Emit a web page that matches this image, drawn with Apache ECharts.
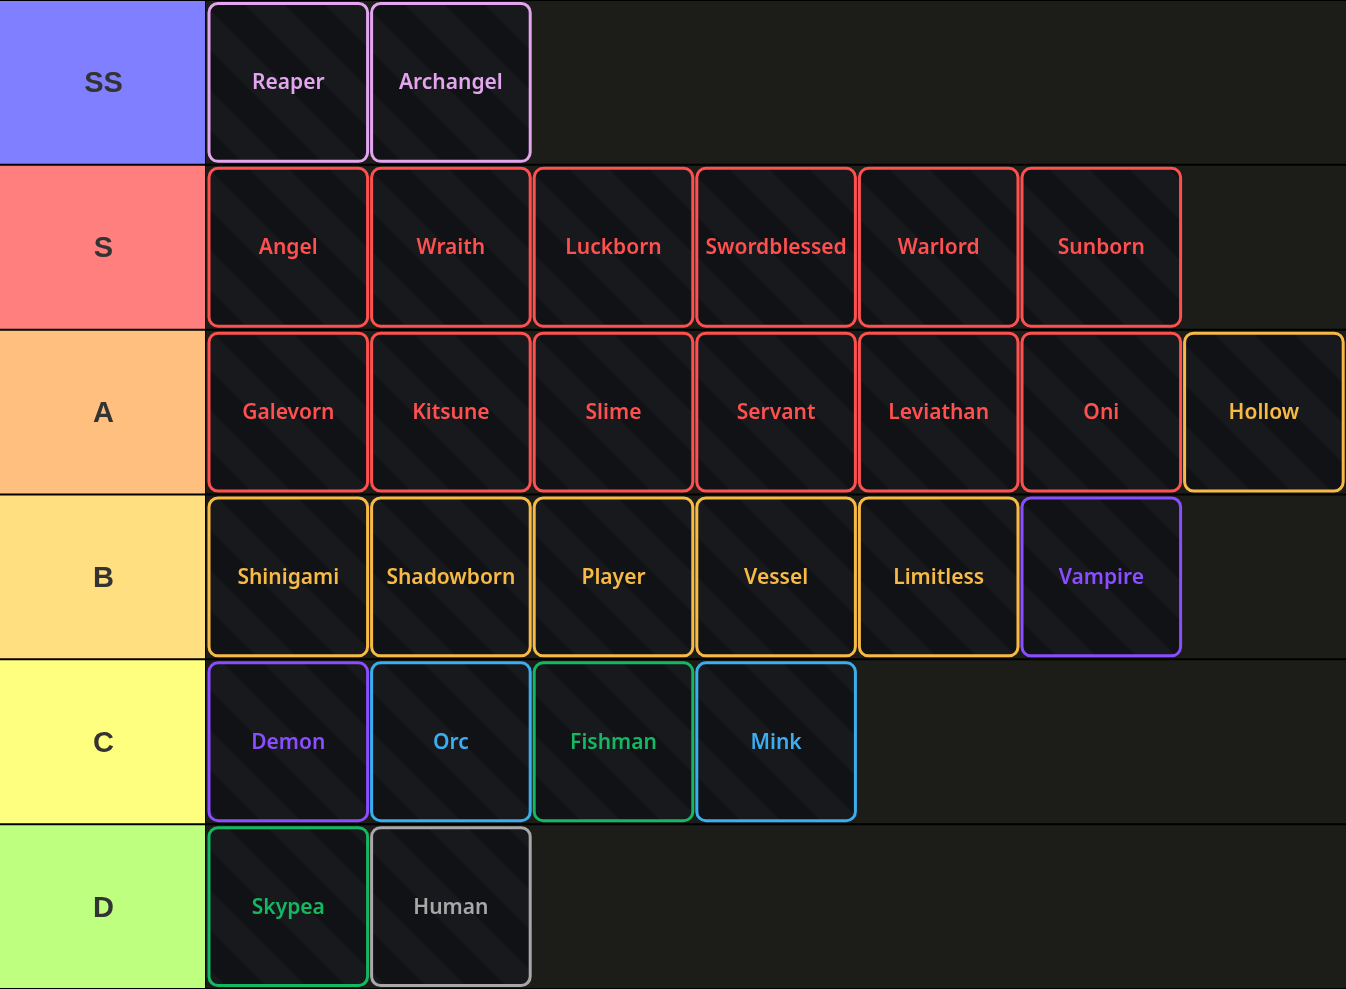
<!DOCTYPE html>
<html><head><meta charset="utf-8">
<script src="https://cdn.jsdelivr.net/npm/echarts@6/dist/echarts.min.js"></script>
<style>html,body{margin:0;padding:0;background:#000;}#c{width:1346px;height:989px;}</style>
</head><body><div id="c"></div>
<script>
const tiers = ['SS','S','A','B','C','D'];
const tierColors = ['#7f7fff','#ff7f7f','#ffbf7f','#ffdf7f','#ffff7f','#bfff7f'];
const tierSS = [['Reaper','pink'],['Archangel','pink']];
const tierS = [['Angel','red'],['Wraith','red'],['Luckborn','red'],['Swordblessed','red'],['Warlord','red'],['Sunborn','red']];
const tierA = [['Galevorn','red'],['Kitsune','red'],['Slime','red'],['Servant','red'],['Leviathan','red'],['Oni','red'],['Hollow','orange']];
const tierB = [['Shinigami','orange'],['Shadowborn','orange'],['Player','orange'],['Vessel','orange'],['Limitless','orange'],['Vampire','purple']];
const tierC = [['Demon','purple'],['Orc','blue'],['Fishman','green'],['Mink','blue']];
const tierD = [['Skypea','green'],['Human','gray']];
const palette = {pink:'#e3a6ee',red:'#ff5050',orange:'#f7bb45',purple:'#8a4dff',blue:'#3aaef0',green:'#15b862',gray:'#a8a8a8'};
const rowsItems = [tierSS,tierS,tierA,tierB,tierC,tierD];

const data = [];
rowsItems.forEach((row,t)=>row.forEach((it,i)=>data.push([i+0.5,t,it[0],palette[it[1]]])));

// stripe pattern
const P=80;
const pc = document.createElement('canvas'); pc.width=P; pc.height=P;
const g = pc.getContext('2d');
g.fillStyle='#111216'; g.fillRect(0,0,P,P);
g.fillStyle='#18191d';
for(let k=-2;k<3;k++){ g.beginPath();
  const o=k*P; g.moveTo(o,0); g.lineTo(o+P/2,0); g.lineTo(o+P*1.5,P); g.lineTo(o+P,P); g.closePath(); g.fill(); }

const chart = echarts.init(document.getElementById('c'));
const xmax = 1140/162.6;
chart.setOption({
  animation:false,
  grid:[{left:0,top:0,width:205,bottom:0},{left:206,right:0,top:0,bottom:0}],
  xAxis:[{gridIndex:0,type:'value',min:0,max:1,show:false},{gridIndex:1,type:'value',min:0,max:xmax,show:false}],
  yAxis:[{gridIndex:0,type:'category',data:tiers,inverse:true,show:false},{gridIndex:1,type:'category',data:tiers,inverse:true,show:false}],
  series:[
    {type:'custom',xAxisIndex:0,yAxisIndex:0,data:tiers.map((t,i)=>[0.5,i,t,tierColors[i]]),
     renderItem:(p,api)=>{const c=api.coord([0.5,api.value(1)]);const s=api.size([1,1]);
       return {type:'group',children:[
        {type:'rect',shape:{x:c[0]-s[0]/2,y:c[1]-s[1]/2+1,width:s[0],height:s[1]-2},style:{fill:api.value(3)}},
        {type:'text',x:c[0]+1,y:c[1]+2,style:{text:api.value(2),fill:'#333',font:'bold 29px Arial, "Liberation Sans"',align:'center',verticalAlign:'middle'}}]};}},
    {type:'custom',xAxisIndex:1,yAxisIndex:1,data:tiers.map((t,i)=>[0,i]),
     renderItem:(p,api)=>{const c=api.coord([0,api.value(1)]);const s=api.size([xmax,1]);
       return {type:'rect',shape:{x:c[0],y:c[1]-s[1]/2+1,width:s[0],height:s[1]-2},style:{fill:'#1c1c18'}};}},
    {type:'custom',xAxisIndex:1,yAxisIndex:1,data:data,
     renderItem:(p,api)=>{const c=api.coord([api.value(0),api.value(1)]);const s=api.size([1,1]);
       const col=api.value(3);
       return {type:'group',children:[
        {type:'rect',shape:{x:c[0]-s[0]/2+3,y:c[1]-s[1]/2+3.5,width:s[0]-4,height:s[1]-7,r:9},
         style:{fill:{image:pc,repeat:'repeat'},stroke:col,lineWidth:3}},
        {type:'text',x:c[0]+1,y:c[1]+1,style:{text:api.value(2),fill:col,font:'600 21px "Noto Sans", "Open Sans"',align:'center',verticalAlign:'middle'}}]};}}
  ]
});
</script></body></html>
